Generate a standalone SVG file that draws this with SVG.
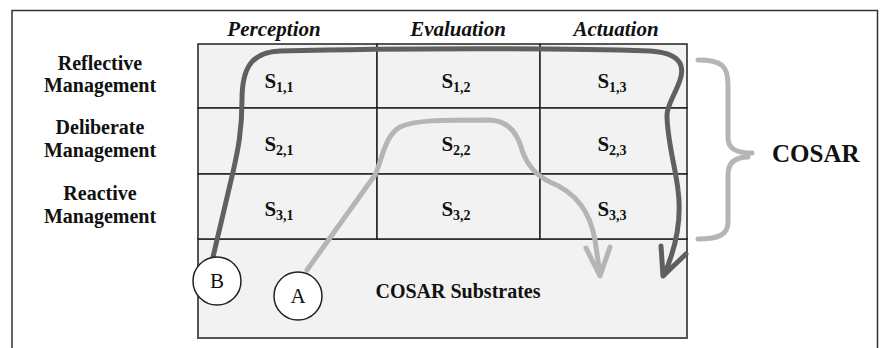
<svg xmlns="http://www.w3.org/2000/svg" width="881" height="348" viewBox="0 0 881 348">
<style>
.grid{fill:#f2f2f2;stroke:#222;stroke-width:1.5}
.flow{fill:none;stroke-width:5;stroke-linecap:round;stroke-linejoin:round}
</style>
<rect x="0" y="0" width="881" height="348" fill="#fff"/>
<path d="M12 350 V10.5 H877.5 V350" fill="none" stroke="#333" stroke-width="1.5"/>
<g id="substrates">
<rect x="198" y="239" width="489" height="99" fill="#f2f2f2" stroke="#555" stroke-width="2"/>
</g>
<g id="grid">
<rect class="grid" x="198" y="44" width="179" height="64"/>
<rect class="grid" x="377" y="44" width="163" height="64"/>
<rect class="grid" x="540" y="44" width="147" height="64"/>
<rect class="grid" x="198" y="108" width="179" height="66"/>
<rect class="grid" x="377" y="108" width="163" height="66"/>
<rect class="grid" x="540" y="108" width="147" height="66"/>
<rect class="grid" x="198" y="174" width="179" height="65"/>
<rect class="grid" x="377" y="174" width="163" height="65"/>
<rect class="grid" x="540" y="174" width="147" height="65"/>
</g>
<g font-family="Liberation Serif, Times New Roman, serif" font-weight="bold" fill="#111">
<g id="headers" font-size="21" font-style="italic" text-anchor="middle">
<text x="274" y="36">Perception</text>
<text x="458" y="36">Evaluation</text>
<text x="616" y="36">Actuation</text>
</g>
<g id="row-labels" font-size="20" text-anchor="middle">
<text x="100" y="70">Reflective</text>
<text x="100" y="92">Management</text>
<text x="100" y="134">Deliberate</text>
<text x="100" y="157">Management</text>
<text x="100" y="200">Reactive</text>
<text x="100" y="223">Management</text>
</g>
<g id="cells" font-size="21" text-anchor="middle">
<text x="279" y="88">S<tspan font-size="14" dy="4">1,1</tspan></text>
<text x="456" y="88">S<tspan font-size="14" dy="4">1,2</tspan></text>
<text x="612" y="88">S<tspan font-size="14" dy="4">1,3</tspan></text>
<text x="279" y="151">S<tspan font-size="14" dy="4">2,1</tspan></text>
<text x="456" y="151">S<tspan font-size="14" dy="4">2,2</tspan></text>
<text x="612" y="151">S<tspan font-size="14" dy="4">2,3</tspan></text>
<text x="279" y="216">S<tspan font-size="14" dy="4">3,1</tspan></text>
<text x="456" y="216">S<tspan font-size="14" dy="4">3,2</tspan></text>
<text x="612" y="216">S<tspan font-size="14" dy="4">3,3</tspan></text>
</g>
<text x="458" y="298" font-size="20" text-anchor="middle">COSAR Substrates</text>
<g id="cosar"><text x="772" y="162" font-size="25">COSAR</text></g>
</g>
<g id="connectors">
<path class="flow" stroke="#b5b5b5" d="M307 270 L375 175 C382 160,385 135,400 127 C415 120,440 120,490 120 C510 121,518 135,522 150 C527 165,535 175,550 182 C575 192,590 210,595 240 L600 274"/>
<polyline class="flow" stroke="#b5b5b5" points="586,248 600,276 610,247"/>
<path class="flow" stroke="#606060" d="M213 257 L233 172 C238 150,242 130,242 100 C242 70,250 52,280 51 C400 48,560 48,650 51 C680 53,685 65,680 80 C675 95,667 105,667 115 C667 140,676 170,678 190 C682 220,675 250,664 275"/>
<polyline class="flow" stroke="#606060" points="661,246 663,276 686,254"/>
<path class="flow" stroke="#b5b5b5" d="M698 60 C722 60,728 66,728 85 L728 138 C728 148,735 153,752 153 M748 157 C735 157,728 163,728 175 L728 222 C728 234,720 239,698 239"/>
</g>
<g id="node-B" font-family="Liberation Serif, Times New Roman, serif">
<circle cx="217" cy="281" r="24" fill="#fff" stroke="#222" stroke-width="1.5"/>
<text x="217" y="288" font-size="21" text-anchor="middle" fill="#111">B</text>
</g>
<g id="node-A" font-family="Liberation Serif, Times New Roman, serif">
<circle cx="298" cy="296" r="24" fill="#fff" stroke="#222" stroke-width="1.5"/>
<text x="298" y="303" font-size="21" text-anchor="middle" fill="#111">A</text>
</g>
</svg>
